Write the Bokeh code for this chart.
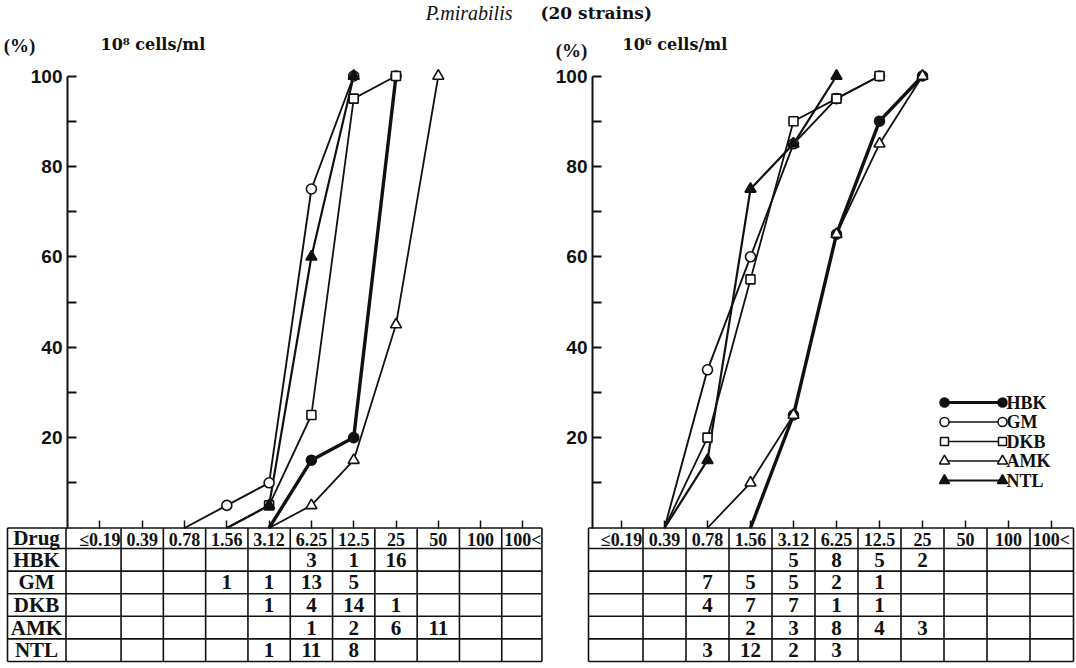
import numpy as np
from bokeh.plotting import figure
from bokeh.models import Range1d, LinearAxis, FixedTicker
from bokeh.core.properties import value
from bokeh.embed import file_html
from bokeh.resources import INLINE

# ---------------------------------------------------------------- data
mic_labels = ["≤0.19", "0.39", "0.78", "1.56", "3.12", "6.25",
              "12.5", "25", "50", "100", "100<"]
drugs = ["HBK", "GM", "DKB", "AMK", "NTL"]
n_strains = 20

# strains inhibited at each MIC (µg/ml), inoculum 10^8 cells/ml
hbk_8 = [0, 0, 0, 0, 0, 3, 1, 16, 0, 0, 0]
gm_8 = [0, 0, 0, 1, 1, 13, 5, 0, 0, 0, 0]
dkb_8 = [0, 0, 0, 0, 1, 4, 14, 1, 0, 0, 0]
amk_8 = [0, 0, 0, 0, 0, 1, 2, 6, 11, 0, 0]
ntl_8 = [0, 0, 0, 0, 1, 11, 8, 0, 0, 0, 0]

# strains inhibited at each MIC (µg/ml), inoculum 10^6 cells/ml
hbk_6 = [0, 0, 0, 0, 5, 8, 5, 2, 0, 0, 0]
gm_6 = [0, 0, 7, 5, 5, 2, 1, 0, 0, 0, 0]
dkb_6 = [0, 0, 4, 7, 7, 1, 1, 0, 0, 0, 0]
amk_6 = [0, 0, 0, 2, 3, 8, 4, 3, 0, 0, 0]
ntl_6 = [0, 0, 3, 12, 2, 3, 0, 0, 0, 0, 0]

pct_ticks = [20, 40, 60, 80, 100]
pct_minor = [10, 30, 50, 70, 90]

counts_8 = [hbk_8, gm_8, dkb_8, amk_8, ntl_8]
counts_6 = [hbk_6, gm_6, dkb_6, amk_6, ntl_6]

# ---------------------------------------------------------------- layout
W, H = 1076, 668
ZERO_PY = 527.5          # pixel row of 0 %
PY_PER_PCT = 4.52
L_COL0_PX, L_COL_PX = 99.4, 42.3   # left panel: first MIC column, spacing
R_COL0_PX, R_COL_PX = 621.0, 43.0  # right panel

def lx(px):
    return (px - L_COL0_PX) / L_COL_PX

def rx(px):
    return (px - R_COL0_PX) / R_COL_PX

def yv(py):
    return (ZERO_PY - py) / PY_PER_PCT

SERIF = value("Liberation Serif")
DJ_SERIF = value("DejaVu Serif")

p = figure(width=W, height=H, output_backend="svg", toolbar_location=None,
           x_range=Range1d(lx(0), lx(W)), y_range=Range1d(yv(H), yv(0)),
           x_axis_location=None, y_axis_location=None, min_border=0)
p.extra_x_ranges = {"r": Range1d(rx(0), rx(W))}
p.grid.visible = False
p.outline_line_color = None
p.background_fill_color = "white"
p.border_fill_color = "white"

INK = "#111111"

# ---------------------------------------------------------------- axes
def pct_axis(range_name, loc):
    ax = LinearAxis(x_range_name=range_name, fixed_location=loc,
                    ticker=FixedTicker(ticks=pct_ticks, minor_ticks=pct_minor),
                    bounds=(0, 100))
    ax.major_tick_in = 9
    ax.major_tick_out = 0
    ax.minor_tick_in = 9
    ax.minor_tick_out = 0
    ax.axis_line_width = 2
    ax.major_tick_line_width = 2
    ax.minor_tick_line_width = 2
    ax.axis_line_color = INK
    ax.major_tick_line_color = INK
    ax.minor_tick_line_color = INK
    ax.major_label_text_font = "Liberation Sans"
    ax.major_label_text_font_style = "bold"
    ax.major_label_text_font_size = "19px"
    ax.major_label_text_color = INK
    ax.major_label_standoff = 5
    p.add_layout(ax, "left")

def mic_axis(range_name):
    ax = LinearAxis(x_range_name=range_name, fixed_location=0,
                    ticker=FixedTicker(ticks=list(range(len(mic_labels))),
                                       minor_ticks=[]))
    ax.major_label_overrides = {i: t for i, t in enumerate(mic_labels)}
    ax.axis_line_color = None
    ax.major_tick_in = 8
    ax.major_tick_out = 0
    ax.major_tick_line_width = 1.5
    ax.major_tick_line_color = INK
    ax.major_label_text_font = "Liberation Serif"
    ax.major_label_text_font_style = "bold"
    ax.major_label_text_font_size = "18px"
    ax.major_label_text_color = INK
    ax.major_label_standoff = 2
    p.add_layout(ax, "below")

pct_axis("default", lx(67))
pct_axis("r", rx(592))
mic_axis("default")
mic_axis("r")

# ---------------------------------------------------------------- table
TABLE_TOP = ZERO_PY
HEADER_H = 20.5
ROW_H = 22.6
row_edges_px = [TABLE_TOP, TABLE_TOP + HEADER_H] + \
    [TABLE_TOP + HEADER_H + ROW_H * (k + 1) for k in range(len(drugs))]
row_centers = [yv(TABLE_TOP + HEADER_H + ROW_H * (k + 0.5)) for k in range(len(drugs))]
header_center = yv(TABLE_TOP + HEADER_H / 2)
ncol = len(mic_labels)

def draw_table(counts, range_name, x_left, x_right, inner_left):
    y_top, y_bot = yv(row_edges_px[0]), yv(row_edges_px[-1])
    # horizontal rules
    p.segment(x0=[x_left] * len(row_edges_px), x1=[x_right] * len(row_edges_px),
              y0=[yv(e) for e in row_edges_px], y1=[yv(e) for e in row_edges_px],
              line_color=INK, line_width=1.6, x_range_name=range_name)
    # vertical rules
    xs = [x_left] + ([inner_left] if inner_left is not None else []) + \
        [i + 0.5 for i in range(ncol - 1)] + [x_right]
    p.segment(x0=xs, x1=xs, y0=[y_top] * len(xs), y1=[y_bot] * len(xs),
              line_color=INK, line_width=1.6, x_range_name=range_name)
    # counts
    tx, ty, tt = [], [], []
    for r, row in enumerate(counts):
        for i, c in enumerate(row):
            if c:
                tx.append(i)
                ty.append(row_centers[r])
                tt.append(str(c))
    p.text(x=tx, y=ty, text=tt, text_font=SERIF, text_font_style="bold",
           text_font_size="21px", text_align="center", text_baseline="middle",
           text_color=INK, x_range_name=range_name)

draw_table(counts_8, "default", lx(7), 10.45, lx(65.5))
draw_table(counts_6, "r", rx(588), rx(1073), None)

# drug column of the left table
p.text(x=[lx(36)] * (len(drugs) + 1), y=[header_center] + row_centers,
       text=["Drug"] + drugs, text_font=SERIF, text_font_style="bold",
       text_font_size="21px", text_align="center", text_baseline="middle",
       text_color=INK)

# ---------------------------------------------------------------- curves
styles = {
    "HBK": dict(marker="circle", fill=INK, lw=3.4, size=10),
    "GM": dict(marker="circle", fill="white", lw=1.9, size=10),
    "DKB": dict(marker="square", fill="white", lw=1.8, size=9),
    "AMK": dict(marker="triangle", fill="white", lw=1.8, size=11),
    "NTL": dict(marker="triangle", fill=INK, lw=2.2, size=11),
}

def cumulative(row):
    c = np.asarray(row, dtype=float)
    cum = np.cumsum(c) / n_strains * 100
    first = int(np.nonzero(c)[0][0])
    last = int(np.nonzero(cum >= 100)[0][0])
    xs = [first - 1] + list(range(first, last + 1))
    ys = [0.0] + list(cum[first:last + 1])
    return xs, ys

def draw_curves(counts, range_name):
    for name, row in zip(drugs, counts):
        st = styles[name]
        xs, ys = cumulative(row)
        p.line(xs, ys, line_color=INK, line_width=st["lw"], x_range_name=range_name)
    for name, row in zip(drugs, counts):
        st = styles[name]
        xs, ys = cumulative(row)
        p.scatter(xs[1:], ys[1:], marker=st["marker"], size=st["size"],
                  fill_color=st["fill"], line_color=INK, line_width=1.6,
                  x_range_name=range_name)

draw_curves(counts_8, "default")
draw_curves(counts_6, "r")

# ---------------------------------------------------------------- legend
leg_rows_py = [402, 421.5, 441, 460.5, 480]
leg_x0, leg_x1, leg_tx = rx(944), rx(1002), rx(1006)
for name, py in zip(drugs, leg_rows_py):
    st = styles[name]
    ly = yv(py)
    p.line([leg_x0, leg_x1], [ly, ly], line_color=INK, line_width=max(st["lw"] - 0.3, 1.6),
           x_range_name="r")
    p.scatter([leg_x0, leg_x1], [ly, ly], marker=st["marker"], size=st["size"] - 1,
              fill_color=st["fill"], line_color=INK, line_width=1.5, x_range_name="r")
p.text(x=[leg_tx] * len(drugs), y=[yv(py) for py in leg_rows_py], text=drugs,
       text_font=SERIF, text_font_style="bold", text_font_size="18px",
       text_align="left", text_baseline="middle", text_color=INK, x_range_name="r")

# ---------------------------------------------------------------- headings
p.text(x=[lx(512)], y=[yv(12)], text=["P.mirabilis"], text_font=SERIF,
       text_font_style="italic", text_font_size="20px", text_align="right",
       text_baseline="middle", text_color=INK)
p.text(x=[lx(540)], y=[yv(12)], text=["(20  strains)"], text_font=DJ_SERIF,
       text_font_style="bold", text_font_size="17px", text_align="left",
       text_baseline="middle", text_color=INK)

p.text(x=[lx(19)], y=[yv(45)], text=["(%)"],
       text_font=SERIF, text_font_style="bold", text_font_size="19px",
       text_align="center", text_baseline="middle", text_color=INK)
p.text(x=[rx(571)], y=[yv(50)], text=["(%)"],
       text_font=SERIF, text_font_style="bold", text_font_size="19px",
       text_align="center", text_baseline="middle", text_color=INK,
       x_range_name="r")
p.text(x=[lx(100)], y=[yv(44)], text=["10⁸ cells/ml"], text_font=DJ_SERIF,
       text_font_style="bold", text_font_size="16px", text_align="left",
       text_baseline="middle", text_color=INK)
p.text(x=[rx(622)], y=[yv(44)], text=["10⁶ cells/ml"], text_font=DJ_SERIF,
       text_font_style="bold", text_font_size="16px", text_align="left",
       text_baseline="middle", text_color=INK, x_range_name="r")

open("out.html", "w").write(file_html(p, INLINE))
